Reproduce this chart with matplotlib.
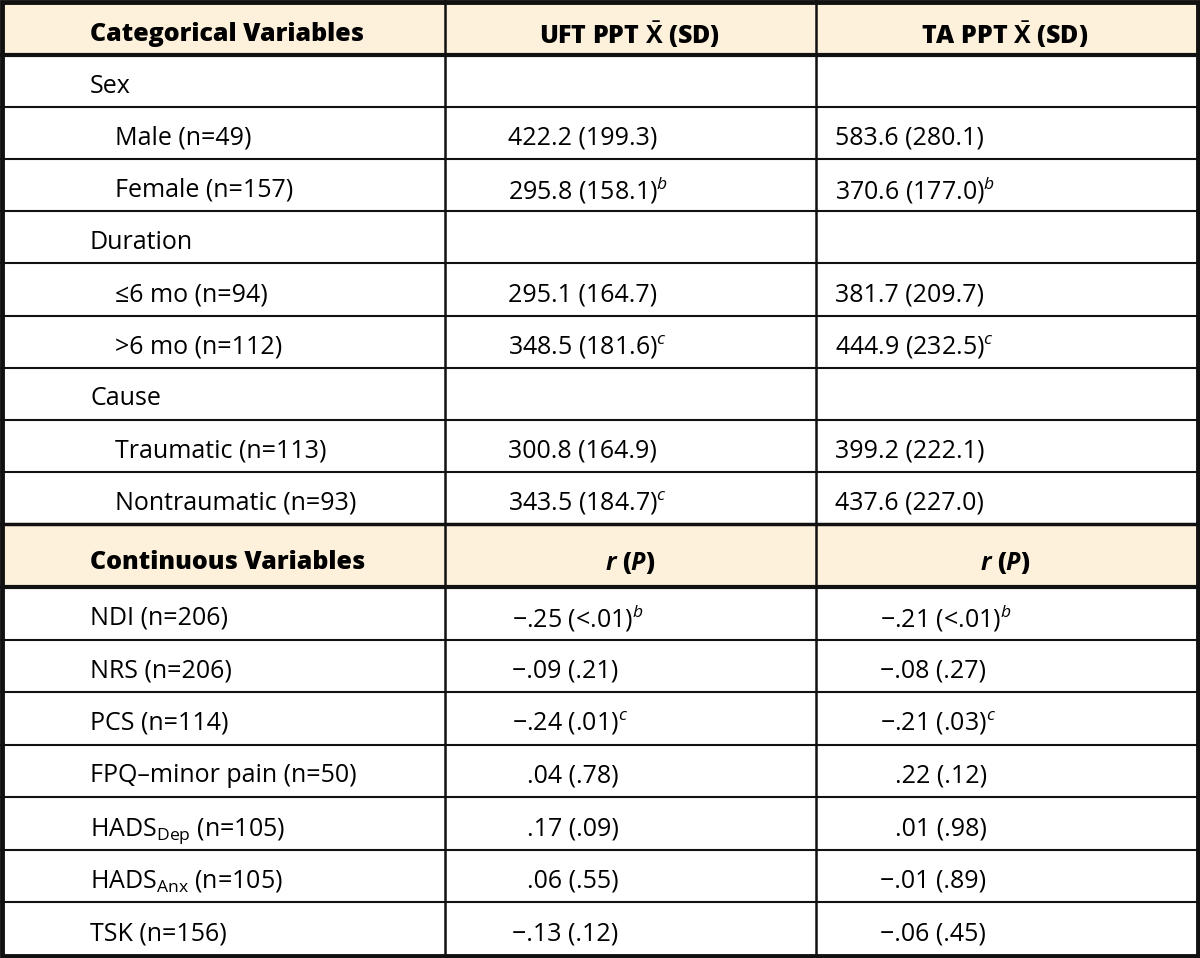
import matplotlib
matplotlib.use('Agg')
import matplotlib.pyplot as plt
from matplotlib.patches import Rectangle

plt.rcParams['font.family'] = ['Open Sans', 'DejaVu Sans']
plt.rcParams['mathtext.fontset'] = 'custom'
plt.rcParams['mathtext.rm'] = 'Open Sans'
plt.rcParams['mathtext.it'] = 'Open Sans:italic'
plt.rcParams['mathtext.bf'] = 'Open Sans:bold'
plt.rcParams['mathtext.bfit'] = 'Open Sans:bold:italic'

# header texts
cat_header = ['Categorical Variables', r'UFT PPT $\bar{\mathbf{X}}$ (SD)', r'TA PPT $\bar{\mathbf{X}}$ (SD)']
cont_header = ['Continuous Variables', r'$\mathbfit{r}$ ($\mathbfit{P}$)', r'$\mathbfit{r}$ ($\mathbfit{P}$)']

# categorical block
cat_labels = ['Sex', 'Male (n=49)', 'Female (n=157)', 'Duration', '≤6 mo (n=94)',
              '>6 mo (n=112)', 'Cause', 'Traumatic (n=113)', 'Nontraumatic (n=93)']
cat_indent = [False, True, True, False, True, True, False, True, True]
uft_ppt = ['', '422.2 (199.3)', '295.8 (158.1)', '', '295.1 (164.7)', '348.5 (181.6)',
           '', '300.8 (164.9)', '343.5 (184.7)']
uft_ppt_sup = ['', '', 'b', '', '', 'c', '', '', 'c']
ta_ppt = ['', '583.6 (280.1)', '370.6 (177.0)', '', '381.7 (209.7)', '444.9 (232.5)',
          '', '399.2 (222.1)', '437.6 (227.0)']
ta_ppt_sup = ['', '', 'b', '', '', 'c', '', '', '']

# continuous block
cont_labels = ['NDI (n=206)', 'NRS (n=206)', 'PCS (n=114)', 'FPQ–minor pain (n=50)',
               r'HADS$_{\mathrm{Dep}}$ (n=105)', r'HADS$_{\mathrm{Anx}}$ (n=105)', 'TSK (n=156)']
uft_r = ['−.25 (<.01)', '−.09 (.21)', '−.24 (.01)', '.04 (.78)', '.17 (.09)', '.06 (.55)', '−.13 (.12)']
uft_r_sup = ['b', '', 'c', '', '', '', '']
ta_r = ['−.21 (<.01)', '−.08 (.27)', '−.21 (.03)', '.22 (.12)', '.01 (.98)', '−.01 (.89)', '−.06 (.45)']
ta_r_sup = ['b', '', 'c', '', '', '', '']

W, H = 1200, 958
fig = plt.figure(figsize=(W / 100, H / 100), dpi=100)
ax = fig.add_axes([0, 0, 1, 1])
ax.set_xlim(0, W)
ax.set_ylim(H, 0)
ax.axis('off')

peach = '#fdf1dc'
ink = '#111111'
fs = 18
col_x = [0, 445, 816, W]

# row edges
cat_top, cat_hdr_bot = 0, 55
cat_h = (524 - cat_hdr_bot) / len(cat_labels)
cont_top, cont_hdr_bot = 524, 587
cont_h = (955 - cont_hdr_bot) / len(cont_labels)

ax.add_patch(Rectangle((0, cat_top), W, cat_hdr_bot - cat_top, color=peach, zorder=0))
ax.add_patch(Rectangle((0, cont_top), W, cont_hdr_bot - cont_top, color=peach, zorder=0))


def with_sup(s, sup):
    return s + (r'$^{\mathit{%s}}$' % sup if sup else '')


def draw_header(texts, ytop, ybot):
    yc = (ytop + ybot) / 2 + 4
    ax.text(90, yc, texts[0], fontsize=fs, fontweight='heavy', ha='left', va='center_baseline')
    ax.text(630, yc, texts[1], fontsize=fs, fontweight='heavy', ha='center', va='center_baseline')
    ax.text(1005, yc, texts[2], fontsize=fs, fontweight='heavy', ha='center', va='center_baseline')


draw_header(cat_header, cat_top, cat_hdr_bot)
for i, lab in enumerate(cat_labels):
    yc = cat_hdr_bot + (i + 0.5) * cat_h + 2
    ax.text(115 if cat_indent[i] else 90, yc, lab, fontsize=fs, ha='left', va='center_baseline')
    if uft_ppt[i]:
        ax.text(508, yc, with_sup(uft_ppt[i], uft_ppt_sup[i]), fontsize=fs, ha='left', va='center_baseline')
    if ta_ppt[i]:
        ax.text(835, yc, with_sup(ta_ppt[i], ta_ppt_sup[i]), fontsize=fs, ha='left', va='center_baseline')
    if i < len(cat_labels) - 1:
        ax.plot([0, W], [cat_hdr_bot + (i + 1) * cat_h] * 2, color=ink, lw=1.5)

draw_header(cont_header, cont_top, cont_hdr_bot)
for i, lab in enumerate(cont_labels):
    yc = cont_hdr_bot + (i + 0.5) * cont_h + 2
    ax.text(90, yc, lab, fontsize=fs, ha='left', va='center_baseline')
    x1 = 512 if uft_r[i].startswith('−') else 527
    ax.text(x1, yc, with_sup(uft_r[i], uft_r_sup[i]), fontsize=fs, ha='left', va='center_baseline')
    x2 = 880 if ta_r[i].startswith('−') else 895
    ax.text(x2, yc, with_sup(ta_r[i], ta_r_sup[i]), fontsize=fs, ha='left', va='center_baseline')
    if i < len(cont_labels) - 1:
        ax.plot([0, W], [cont_hdr_bot + (i + 1) * cont_h] * 2, color=ink, lw=1.5)

# heavier rules around header rows
for y in [cat_hdr_bot, cont_top, cont_hdr_bot]:
    ax.plot([0, W], [y, y], color=ink, lw=3 if y != cont_top else 2.5)

# column rules
for x in col_x[1:-1]:
    ax.plot([x, x], [0, H], color=ink, lw=1.8)

# outer frame
ax.add_patch(Rectangle((2, 2), W - 4, H - 4, fill=False, ec=ink, lw=3.5, zorder=5))

fig.savefig('out.png', dpi=100)
